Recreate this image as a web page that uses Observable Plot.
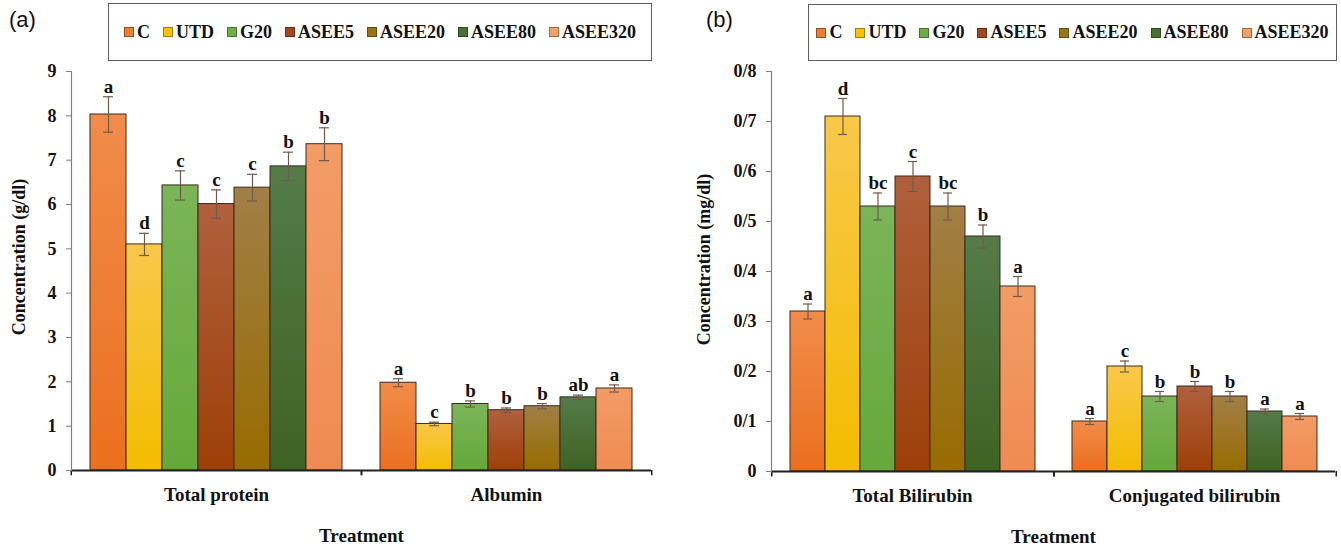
<!DOCTYPE html>
<html><head><meta charset="utf-8">
<script src="https://cdn.jsdelivr.net/npm/d3@7"></script>
<script src="https://cdn.jsdelivr.net/npm/@observablehq/plot@0.6"></script>
<style>
html,body{margin:0;padding:0;background:#fff;}
body{width:1341px;height:547px;overflow:hidden;position:relative;font-family:"Liberation Serif","Times New Roman",serif;color:#111;}
.panel{position:absolute;top:0;}
.head{position:relative;height:62px;}
.tag{position:absolute;font-family:"Liberation Sans",Arial,sans-serif;font-size:22px;top:7px;color:#111;}
.legend{position:absolute;border:1.5px solid #5e5e5e;box-sizing:border-box;display:flex;align-items:center;justify-content:center;gap:13px;font-weight:bold;font-size:18px;color:#111;}
.item{display:flex;align-items:center;white-space:nowrap;}
.sw{width:8px;height:8px;border:1px solid #555;margin-right:3px;}
svg{display:block;}
.panel svg text{font-family:"Liberation Serif","Times New Roman",serif !important;}
</style></head><body>
<svg width="0" height="0" style="position:absolute;left:0;top:0"><defs id="grads"></defs></svg>
<div class="panel" id="pa" style="left:0;width:670px">
  <div class="head"><div class="tag" style="left:9px">(a)</div><div class="legend" id="legA" style="left:108px;top:3px;width:544px;height:58px"></div></div>
</div>
<div class="panel" id="pb" style="left:680px;width:661px">
  <div class="head"><div class="tag" style="left:26px">(b)</div><div class="legend" id="legB" style="left:128px;top:4px;width:529px;height:57px"></div></div>
</div>
<script>
// ---------- data ----------
const treatments = ["C", "UTD", "G20", "ASEE5", "ASEE20", "ASEE80", "ASEE320"];
const swatchColors = ["#ED7D31", "#FFC000", "#70AD47", "#A5471E", "#9A7316", "#4C6F33", "#F4A06A"];
const gradTop = ["#F18C4B", "#F9C84A", "#7AB558", "#B0603D", "#A17F46", "#557B49", "#F39C66"];
const gradBottom = ["#EB6F1E", "#F3BC00", "#66A83A", "#9E3F08", "#986B00", "#3D6323", "#EE8B52"];

const measuresA = ["Total protein", "Albumin"];
const totalProtein = [8.03, 5.10, 6.43, 6.01, 6.38, 6.86, 7.36];
const totalProteinErr = [0.40, 0.25, 0.33, 0.32, 0.30, 0.32, 0.37];
const totalProteinLetters = ["a", "d", "c", "c", "c", "b", "b"];
const albumin = [1.98, 1.05, 1.50, 1.36, 1.45, 1.65, 1.85];
const albuminErr = [0.09, 0.04, 0.07, 0.05, 0.06, 0.05, 0.08];
const albuminLetters = ["a", "c", "b", "b", "b", "ab", "a"];

const measuresB = ["Total Bilirubin", "Conjugated bilirubin"];
const totalBilirubin = [0.32, 0.71, 0.53, 0.59, 0.53, 0.47, 0.37];
const totalBilirubinErr = [0.015, 0.036, 0.027, 0.030, 0.027, 0.023, 0.020];
const totalBilirubinLetters = ["a", "d", "bc", "c", "bc", "b", "a"];
const conjBilirubin = [0.10, 0.21, 0.15, 0.17, 0.15, 0.12, 0.11];
const conjBilirubinErr = [0.006, 0.011, 0.010, 0.010, 0.010, 0.005, 0.006];
const conjBilirubinLetters = ["a", "c", "b", "b", "b", "a", "a"];

const yTicksA = [0, 1, 2, 3, 4, 5, 6, 7, 8, 9];
const yTickLabelsA = ["0", "1", "2", "3", "4", "5", "6", "7", "8", "9"];
const yTicksB = [0, 0.1, 0.2, 0.3, 0.4, 0.5, 0.6, 0.7, 0.8];
const yTickLabelsB = ["0", "0/1", "0/2", "0/3", "0/4", "0/5", "0/6", "0/7", "0/8"];

// ---------- gradients ----------
const defs = d3.select("#grads");
treatments.forEach((t, i) => {
  const g = defs.append("linearGradient").attr("id", "g" + i).attr("x1", 0).attr("y1", 0).attr("x2", 0).attr("y2", 1);
  g.append("stop").attr("offset", "0%").attr("stop-color", gradTop[i]);
  g.append("stop").attr("offset", "100%").attr("stop-color", gradBottom[i]);
});

// ---------- legends ----------
function legend(id) {
  const el = document.getElementById(id);
  treatments.forEach((t, i) => {
    const it = document.createElement("div"); it.className = "item";
    const sw = document.createElement("div"); sw.className = "sw";
    sw.style.background = swatchColors[i];
    sw.style.borderColor = d3.color(swatchColors[i]).darker(1.2);
    const tx = document.createElement("span"); tx.textContent = t;
    it.appendChild(sw); it.appendChild(tx); el.appendChild(it);
  });
}
legend("legA"); legend("legB");

// ---------- chart ----------
function rowsOf(measures, series, errs, letters) {
  const rows = [];
  measures.forEach((m, k) => treatments.forEach((t, i) =>
    rows.push({measure: m, treatment: t, value: series[k][i], err: errs[k][i], letter: letters[k][i]})));
  return rows;
}

function chart(o) {
  const rows = rowsOf(o.measures, o.series, o.errs, o.letters);
  const fw = (o.width - o.marginLeft - o.marginRight) / o.measures.length;
  const serif = '"Liberation Serif", "Times New Roman", serif';
  const ebColor = "#6f5b4a";
  const svg = Plot.plot({
    width: o.width, height: 485,
    marginTop: 9, marginBottom: 76 + o.extraBottom, marginLeft: o.marginLeft, marginRight: o.marginRight,
    style: {fontFamily: serif, color: "#111", background: "transparent", overflow: "visible"},
    fx: {domain: o.measures, padding: 0},
    x: {domain: treatments, paddingInner: 0, paddingOuter: 0.5, axis: null},
    y: {domain: o.yDomain},
    color: {domain: treatments, range: treatments.map((t, i) => `url(#g${i})`)},
    marks: [
      Plot.barY(rows, {fx: "measure", x: "treatment", y: "value", fill: "treatment", stroke: "#3a2b20", strokeWidth: 1}),
      Plot.ruleX(rows, {fx: "measure", x: "treatment", y1: d => d.value - d.err, y2: d => d.value + d.err, stroke: ebColor, strokeWidth: 1.2}),
      Plot.tickY(rows, {fx: "measure", x: "treatment", y: d => d.value + d.err, stroke: ebColor, strokeWidth: 1.2, insetLeft: 13, insetRight: 13}),
      Plot.tickY(rows, {fx: "measure", x: "treatment", y: d => d.value - d.err, stroke: ebColor, strokeWidth: 1.2, insetLeft: 13, insetRight: 13}),
      Plot.text(rows, {fx: "measure", x: "treatment", y: d => d.value + d.err, text: "letter", lineAnchor: "bottom", dy: -4, fontSize: 19, fontWeight: "bold", fill: "#111", fontFamily: serif}),
      Plot.ruleY([0], {stroke: "#222", strokeWidth: 2}),
      Plot.ruleX(o.measures, {fx: d => d, x: () => "ASEE5", y1: () => 0, y2: () => -o.tickLen, dx: -fw / 2, stroke: "#222", strokeWidth: 1.5}),
      Plot.ruleX(o.measures, {fx: d => d, x: () => "ASEE5", y1: () => 0, y2: () => -o.tickLen, dx: fw / 2, stroke: "#222", strokeWidth: 1.5}),
      Plot.frame({anchor: "left", facetAnchor: "left", stroke: "#808080", strokeWidth: 1.2}),
      Plot.axisY({ticks: o.yTicks, tickFormat: (d) => o.yTickLabels[o.yTicks.indexOf(d)], tickSize: 5, tickPadding: 10,
        stroke: "#808080", fontSize: o.tickFont, fontWeight: "bold", fill: "#111", fontFamily: serif,
        label: o.yLabel, labelAnchor: "center", labelArrow: "none", labelOffset: o.labelOffset}),
      Plot.axisFx({anchor: "bottom", tickSize: 0, tickPadding: 17, fontSize: 19, fontWeight: "bold", fill: "#111", fontFamily: serif,
        label: "Treatment", labelAnchor: "center", labelArrow: "none", labelOffset: 71})
    ]
  });
  // nudge the y-axis title up slightly, as in the reference
  d3.select(svg).selectAll('g[aria-label="y-axis label"]').each(function () {
    const g = d3.select(this);
    g.attr("transform", `translate(0,${o.labelShift}) ${g.attr("transform") || ""}`);
  });
  return svg;
}

document.getElementById("pa").appendChild(chart({
  measures: measuresA, series: [totalProtein, albumin], errs: [totalProteinErr, albuminErr], letters: [totalProteinLetters, albuminLetters],
  width: 670, marginLeft: 70, marginRight: 19, extraBottom: 1, yDomain: [0, 9], yTicks: yTicksA, yTickLabels: yTickLabelsA,
  yLabel: "Concentration (g/dl)", tickFont: 18, labelOffset: 59, tickLen: 0.12, labelShift: -14
}));
document.getElementById("pb").appendChild(chart({
  measures: measuresB, series: [totalBilirubin, conjBilirubin], errs: [totalBilirubinErr, conjBilirubinErr], letters: [totalBilirubinLetters, conjBilirubinLetters],
  width: 661, marginLeft: 90, marginRight: 6, extraBottom: 0, yDomain: [0, 0.8], yTicks: yTicksB, yTickLabels: yTickLabelsB,
  yLabel: "Concentration (mg/dl)", tickFont: 18, labelOffset: 74, tickLen: 0.011, labelShift: -12
}));
</script>
</body></html>
